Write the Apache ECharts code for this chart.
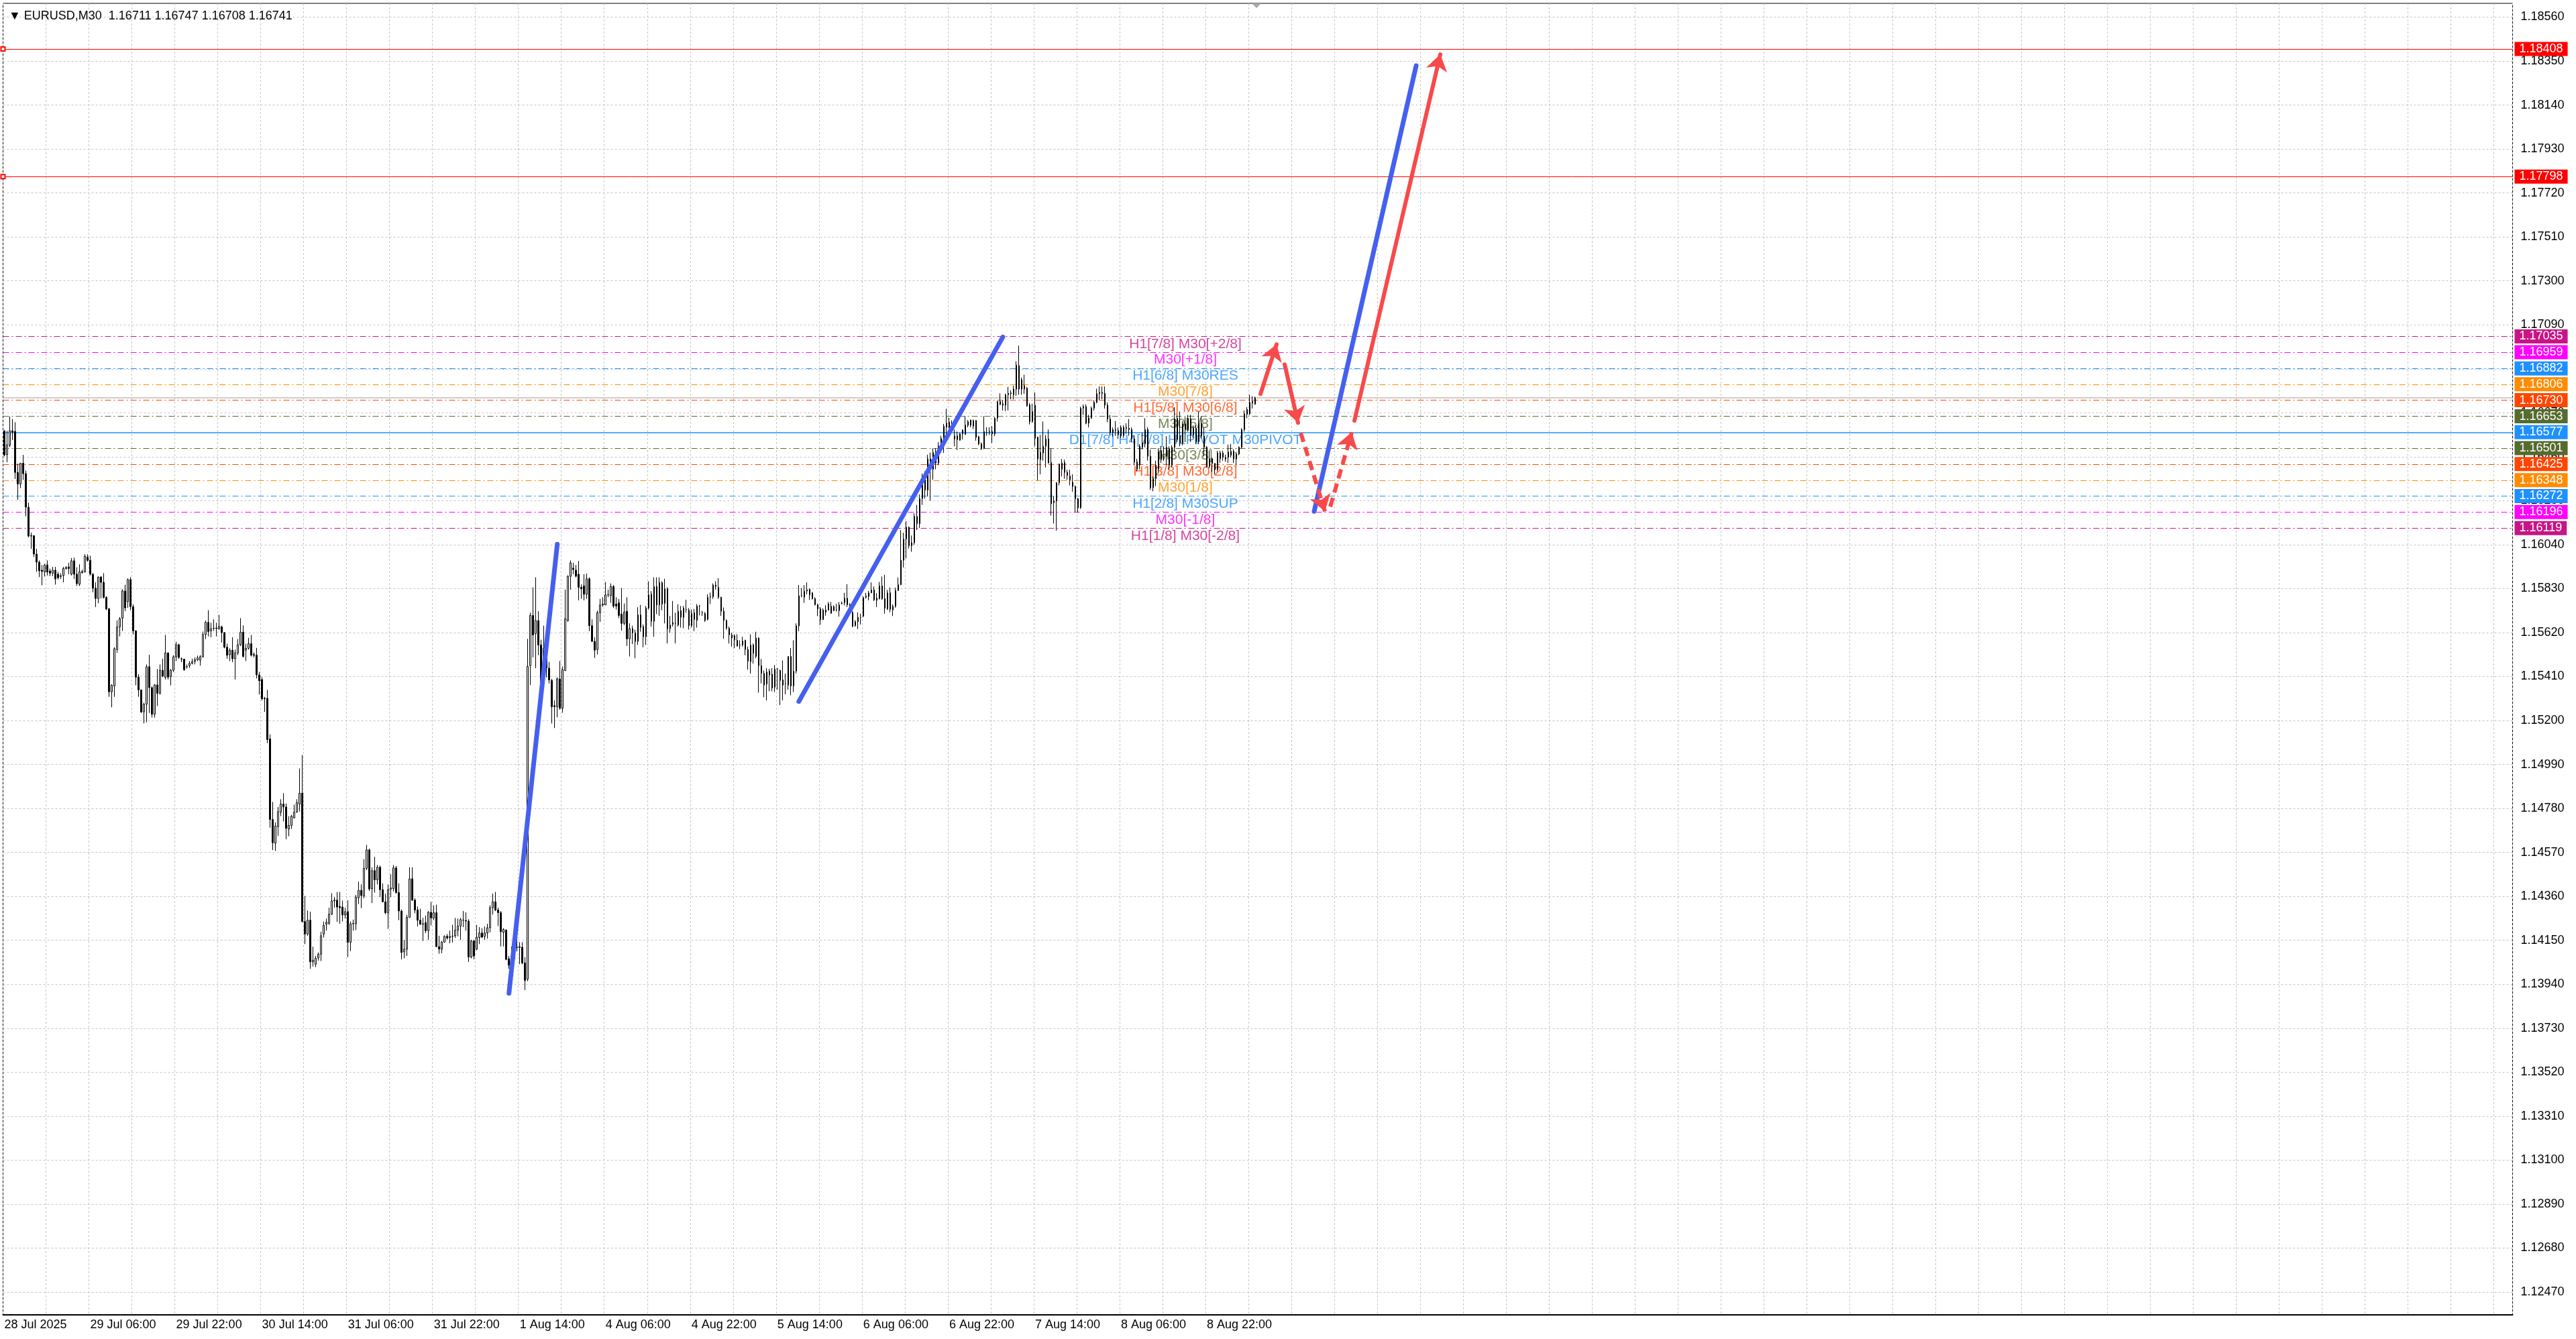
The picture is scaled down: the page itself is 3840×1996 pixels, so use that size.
<!DOCTYPE html>
<html>
<head>
<meta charset="utf-8">
<title>EURUSD,M30</title>
<script src="https://cdn.jsdelivr.net/npm/echarts@6/dist/echarts.min.js"></script>
<style>
  html, body { margin: 0; padding: 0; background: #fff; }
  #chart { width: 3840px; height: 1996px; }
</style>
</head>
<body>
<div id="chart"></div>
<script>
// time axis labels, one every 32 bars (16 hours of M30)
const timeLabels = ['28 Jul 2025', '29 Jul 06:00', '29 Jul 22:00', '30 Jul 14:00', '31 Jul 06:00',
  '31 Jul 22:00', '1 Aug 14:00', '4 Aug 06:00', '4 Aug 22:00', '5 Aug 14:00', '6 Aug 06:00',
  '6 Aug 22:00', '7 Aug 14:00', '8 Aug 06:00', '8 Aug 22:00'];

// price scale tick labels
const priceTicks = [1.12470, 1.12680, 1.12890, 1.13100, 1.13310, 1.13520, 1.13730, 1.13940,
  1.14150, 1.14360, 1.14570, 1.14780, 1.14990, 1.15200, 1.15410, 1.15620, 1.15830, 1.16040,
  1.16250, 1.16460, 1.16670, 1.16880, 1.17090, 1.17300, 1.17510, 1.17720, 1.17930, 1.18140,
  1.18350, 1.18560];

// Murrey levels
const levelPrices = [1.17035, 1.16959, 1.16882, 1.16806, 1.16730, 1.16653, 1.16577,
  1.16501, 1.16425, 1.16348, 1.16272, 1.16196, 1.16119];
const levelNames = ['H1[7/8] M30[+2/8]', 'M30[+1/8]', 'H1[6/8] M30RES', 'M30[7/8]',
  'H1[5/8] M30[6/8]', 'M30[5/8]', 'D1[7/8] H4[7/8] H1PIVOT M30PIVOT', 'M30[3/8]',
  'H1[3/8] M30[2/8]', 'M30[1/8]', 'H1[2/8] M30SUP', 'M30[-1/8]', 'H1[1/8] M30[-2/8]'];
const levelColors = ['#C71585', '#FF00FF', '#1E90FF', '#FF8C00', '#FF4500', '#556B2F', '#1E90FF',
  '#556B2F', '#FF4500', '#FF8C00', '#1E90FF', '#FF00FF', '#C71585'];
const targetPrices = [1.18408, 1.17798];
const bidPrice = 1.16741;

// M30 bars as [open, close, low, high]
const bars28to30Jul = [
  [1.16584,1.16468,1.16462,1.16586],[1.16470,1.16517,1.16434,1.16584],[1.16515,1.16584,1.16506,1.16652],
  [1.16584,1.16578,1.16540,1.16640],[1.16581,1.16385,1.16354,1.16625],[1.16385,1.16330,1.16254,1.16427],
  [1.16330,1.16429,1.16310,1.16431],[1.16429,1.16379,1.16349,1.16469],[1.16379,1.16219,1.16175,1.16394],
  [1.16219,1.16081,1.16075,1.16241],[1.16081,1.16083,1.16020,1.16098],[1.16083,1.15995,1.15981,1.16084],
  [1.15995,1.15956,1.15910,1.16020],[1.15956,1.15915,1.15885,1.15965],[1.15918,1.15912,1.15846,1.15943],
  [1.15910,1.15943,1.15888,1.15948],[1.15943,1.15910,1.15893,1.15965],[1.15914,1.15904,1.15890,1.15926],
  [1.15904,1.15918,1.15890,1.15934],[1.15918,1.15876,1.15849,1.15934],[1.15899,1.15882,1.15874,1.15910],
  [1.15888,1.15892,1.15876,1.15904],[1.15893,1.15926,1.15860,1.15934],[1.15925,1.15932,1.15921,1.15937],
  [1.15934,1.15926,1.15899,1.15954],[1.15899,1.15963,1.15893,1.15976],[1.15963,1.15899,1.15876,1.15978],
  [1.15899,1.15854,1.15843,1.15932],[1.15851,1.15910,1.15843,1.15946],[1.15906,1.15912,1.15902,1.15921],
  [1.15910,1.15985,1.15907,1.15994],[1.15981,1.15965,1.15959,1.15994],[1.15965,1.15899,1.15893,1.15987],
  [1.15899,1.15832,1.15812,1.15904],[1.15832,1.15783,1.15742,1.15860],[1.15783,1.15885,1.15760,1.15888],
  [1.15885,1.15860,1.15783,1.15890],[1.15860,1.15788,1.15783,1.15904],[1.15788,1.15733,1.15727,1.15794],
  [1.15733,1.15337,1.15313,1.15738],[1.15337,1.15368,1.15263,1.15374],[1.15365,1.15543,1.15313,1.15550],
  [1.15539,1.15647,1.15523,1.15678],[1.15647,1.15686,1.15602,1.15694],[1.15689,1.15819,1.15628,1.15827],
  [1.15819,1.15738,1.15722,1.15849],[1.15768,1.15873,1.15738,1.15879],[1.15873,1.15744,1.15727,1.15885],
  [1.15744,1.15628,1.15611,1.15755],[1.15628,1.15407,1.15368,1.15631],[1.15407,1.15346,1.15313,1.15421],
  [1.15346,1.15241,1.15236,1.15348],[1.15241,1.15278,1.15186,1.15285],[1.15278,1.15457,1.15191,1.15468],
  [1.15457,1.15357,1.15236,1.15514],[1.15357,1.15230,1.15214,1.15363],[1.15230,1.15370,1.15214,1.15374],
  [1.15370,1.15330,1.15269,1.15446],[1.15330,1.15440,1.15324,1.15468],[1.15440,1.15412,1.15407,1.15495],
  [1.15407,1.15523,1.15396,1.15609],[1.15523,1.15407,1.15396,1.15525],[1.15410,1.15440,1.15368,1.15446],
  [1.15440,1.15504,1.15432,1.15512],[1.15504,1.15562,1.15484,1.15576],[1.15562,1.15501,1.15495,1.15567],
  [1.15495,1.15493,1.15479,1.15501],[1.15493,1.15443,1.15437,1.15495],[1.15457,1.15457,1.15448,1.15468],
  [1.15462,1.15473,1.15451,1.15484],[1.15473,1.15481,1.15468,1.15495],[1.15483,1.15490,1.15468,1.15501],
  [1.15490,1.15499,1.15484,1.15510],[1.15488,1.15505,1.15462,1.15512],[1.15504,1.15611,1.15501,1.15625],
  [1.15611,1.15669,1.15589,1.15678],[1.15669,1.15625,1.15602,1.15727],[1.15628,1.15639,1.15598,1.15667],
  [1.15640,1.15641,1.15628,1.15683],[1.15639,1.15642,1.15602,1.15667],[1.15639,1.15650,1.15633,1.15705],
  [1.15647,1.15620,1.15573,1.15653],[1.15620,1.15550,1.15545,1.15622],[1.15550,1.15512,1.15495,1.15567],
  [1.15514,1.15536,1.15484,1.15545],[1.15536,1.15495,1.15479,1.15598],[1.15495,1.15523,1.15396,1.15539],
  [1.15523,1.15562,1.15512,1.15589],[1.15562,1.15622,1.15556,1.15689],[1.15622,1.15506,1.15501,1.15655],
  [1.15536,1.15545,1.15484,1.15567],[1.15545,1.15567,1.15539,1.15595],[1.15567,1.15512,1.15506,1.15609],
  [1.15510,1.15517,1.15501,1.15525],[1.15512,1.15418,1.15401,1.15547],[1.15418,1.15390,1.15324,1.15432],
  [1.15396,1.15304,1.15296,1.15407],[1.15306,1.15304,1.15241,1.15313],[1.15306,1.15109,1.15092,1.15346]
];
const bars30Jul1Aug = [
  [1.15112,1.14727,1.14688,1.15134],[1.14727,1.14616,1.14581,1.14811],[1.14614,1.14696,1.14577,1.14713],
  [1.14693,1.14765,1.14649,1.14787],[1.14762,1.14801,1.14743,1.14824],[1.14801,1.14787,1.14718,1.14853],
  [1.14787,1.14685,1.14633,1.14804],[1.14682,1.14699,1.14647,1.14743],[1.14699,1.14743,1.14682,1.14749],
  [1.14735,1.14762,1.14732,1.14798],[1.14762,1.14808,1.14760,1.14824],[1.14801,1.14853,1.14765,1.14971],
  [1.14853,1.14240,1.14235,1.15035],[1.14240,1.14180,1.14132,1.14362],[1.14180,1.14246,1.14172,1.14293],
  [1.14246,1.14047,1.14014,1.14287],[1.14047,1.14055,1.14025,1.14120],[1.14036,1.14064,1.14022,1.14075],
  [1.14066,1.14084,1.14053,1.14092],[1.14084,1.14172,1.14051,1.14191],[1.14180,1.14221,1.14163,1.14240],
  [1.14227,1.14236,1.14196,1.14254],[1.14231,1.14275,1.14224,1.14306],[1.14275,1.14338,1.14271,1.14375],
  [1.14338,1.14342,1.14306,1.14356],[1.14342,1.14309,1.14238,1.14381],[1.14312,1.14306,1.14229,1.14381],
  [1.14309,1.14271,1.14240,1.14340],[1.14271,1.14287,1.14254,1.14306],[1.14287,1.14141,1.14070,1.14342],
  [1.14141,1.14229,1.14099,1.14240],[1.14229,1.14231,1.14196,1.14249],[1.14229,1.14356,1.14199,1.14367],
  [1.14353,1.14389,1.14323,1.14430],[1.14389,1.14364,1.14304,1.14417],[1.14362,1.14494,1.14351,1.14538],
  [1.14494,1.14582,1.14485,1.14606],[1.14582,1.14395,1.14386,1.14588],[1.14397,1.14483,1.14328,1.14499],
  [1.14483,1.14439,1.14378,1.14549],[1.14439,1.14499,1.14417,1.14510],[1.14499,1.14392,1.14356,1.14507],
  [1.14392,1.14334,1.14331,1.14422],[1.14334,1.14282,1.14275,1.14373],[1.14282,1.14392,1.14205,1.14417],
  [1.14395,1.14400,1.14356,1.14466],[1.14397,1.14496,1.14384,1.14510],[1.14496,1.14378,1.14373,1.14505],
  [1.14378,1.14290,1.14246,1.14422],[1.14290,1.14092,1.14059,1.14298],[1.14095,1.14108,1.14064,1.14152],
  [1.14108,1.14260,1.14075,1.14271],[1.14260,1.14444,1.14257,1.14499],[1.14444,1.14342,1.14338,1.14499],
  [1.14342,1.14295,1.14279,1.14351],[1.14295,1.14246,1.14216,1.14312],[1.14246,1.14227,1.14224,1.14301],
  [1.14229,1.14227,1.14147,1.14257],[1.14235,1.14196,1.14185,1.14268],[1.14196,1.14284,1.14152,1.14290],
  [1.14284,1.14257,1.14221,1.14334],[1.14257,1.14282,1.14246,1.14317],[1.14282,1.14120,1.14117,1.14320],
  [1.14120,1.14108,1.14086,1.14172],[1.14108,1.14141,1.14088,1.14147],[1.14141,1.14169,1.14139,1.14174],
  [1.14169,1.14161,1.14154,1.14180],[1.14163,1.14169,1.14136,1.14196],[1.14169,1.14170,1.14139,1.14224],
  [1.14172,1.14199,1.14161,1.14257],[1.14199,1.14218,1.14169,1.14254],[1.14218,1.14249,1.14152,1.14257],
  [1.14246,1.14247,1.14213,1.14290],[1.14245,1.14242,1.14196,1.14284],[1.14242,1.14070,1.14047,1.14251],
  [1.14070,1.14147,1.14064,1.14152],[1.14147,1.14075,1.14059,1.14152],[1.14108,1.14165,1.14103,1.14224],
  [1.14163,1.14185,1.14132,1.14213],[1.14185,1.14165,1.14161,1.14208],[1.14169,1.14185,1.14152,1.14216],
  [1.14185,1.14210,1.14158,1.14229],[1.14210,1.14306,1.14188,1.14317],[1.14306,1.14334,1.14273,1.14373],
  [1.14334,1.14295,1.14290,1.14381],[1.14295,1.14282,1.14218,1.14306],[1.14282,1.14191,1.14121,1.14290],
  [1.14188,1.14202,1.14121,1.14208],[1.14199,1.14059,1.14055,1.14202],[1.14062,1.14031,1.14014,1.14075],
  [1.14031,1.14075,1.14009,1.14120],[1.14064,1.14117,1.14053,1.14141],[1.14117,1.14115,1.14097,1.14224],
  [1.14115,1.14120,1.14036,1.14141],[1.14117,1.14042,1.14036,1.14141],[1.14042,1.13959,1.13912,1.14070]
];
const bars1to5Aug = [
  [1.13965,1.15458,1.13955,1.15590],[1.15462,1.15702,1.15369,1.15715],[1.15702,1.15609,1.15502,1.15836],
  [1.15615,1.15678,1.15450,1.15884],[1.15677,1.15561,1.15512,1.15722],[1.15561,1.15377,1.15374,1.15586],
  [1.15377,1.15546,1.15374,1.15653],[1.15546,1.15450,1.15406,1.15641],[1.15450,1.15394,1.15377,1.15480],
  [1.15391,1.15266,1.15186,1.15399],[1.15271,1.15266,1.15164,1.15296],[1.15266,1.15399,1.15215,1.15406],
  [1.15399,1.15259,1.15252,1.15484],[1.15259,1.15443,1.15237,1.15458],[1.15439,1.15686,1.15436,1.15825],
  [1.15678,1.15889,1.15671,1.15894],[1.15889,1.15953,1.15825,1.15965],[1.15928,1.15921,1.15899,1.15953],
  [1.15918,1.15889,1.15884,1.15943],[1.15899,1.15836,1.15774,1.15962],[1.15836,1.15830,1.15781,1.15850],
  [1.15843,1.15803,1.15774,1.15899],[1.15803,1.15877,1.15781,1.15902],[1.15877,1.15653,1.15627,1.15884],
  [1.15653,1.15578,1.15575,1.15683],[1.15578,1.15536,1.15499,1.15597],[1.15539,1.15715,1.15516,1.15725],
  [1.15715,1.15752,1.15671,1.15781],[1.15752,1.15756,1.15744,1.15789],[1.15752,1.15800,1.15752,1.15862],
  [1.15800,1.15801,1.15789,1.15825],[1.15796,1.15840,1.15762,1.15855],[1.15840,1.15747,1.15737,1.15847],
  [1.15756,1.15747,1.15730,1.15789],[1.15762,1.15702,1.15689,1.15781],[1.15708,1.15664,1.15630,1.15833],
  [1.15664,1.15718,1.15656,1.15759],[1.15722,1.15590,1.15556,1.15789],[1.15590,1.15639,1.15506,1.15664],
  [1.15639,1.15619,1.15565,1.15653],[1.15618,1.15578,1.15497,1.15634],[1.15578,1.15705,1.15561,1.15741],
  [1.15705,1.15644,1.15624,1.15752],[1.15649,1.15600,1.15550,1.15659],[1.15600,1.15737,1.15561,1.15747],
  [1.15737,1.15800,1.15730,1.15865],[1.15803,1.15674,1.15649,1.15818],[1.15674,1.15840,1.15600,1.15884],
  [1.15840,1.15752,1.15708,1.15884],[1.15752,1.15859,1.15700,1.15884],[1.15859,1.15756,1.15727,1.15865],
  [1.15759,1.15830,1.15664,1.15877],[1.15830,1.15639,1.15568,1.15836],[1.15639,1.15656,1.15619,1.15700],
  [1.15659,1.15668,1.15649,1.15771],[1.15664,1.15665,1.15568,1.15715],[1.15656,1.15722,1.15649,1.15756],
  [1.15725,1.15693,1.15644,1.15747],[1.15693,1.15737,1.15641,1.15747],[1.15730,1.15731,1.15715,1.15777],
  [1.15727,1.15653,1.15634,1.15737],[1.15653,1.15712,1.15644,1.15730],[1.15715,1.15683,1.15627,1.15733],
  [1.15678,1.15747,1.15644,1.15756],[1.15747,1.15748,1.15702,1.15752],[1.15715,1.15716,1.15700,1.15724],
  [1.15711,1.15678,1.15671,1.15718],[1.15683,1.15789,1.15678,1.15803],[1.15791,1.15790,1.15756,1.15811],
  [1.15791,1.15847,1.15781,1.15855],[1.15847,1.15840,1.15825,1.15865],[1.15836,1.15789,1.15781,1.15880],
  [1.15789,1.15722,1.15700,1.15791],[1.15722,1.15678,1.15590,1.15740],[1.15678,1.15641,1.15634,1.15683],
  [1.15641,1.15609,1.15568,1.15649],[1.15594,1.15609,1.15553,1.15619],[1.15605,1.15586,1.15546,1.15612],
  [1.15583,1.15556,1.15553,1.15612],[1.15561,1.15562,1.15541,1.15583],[1.15561,1.15580,1.15553,1.15600],
  [1.15583,1.15539,1.15512,1.15586],[1.15539,1.15483,1.15443,1.15553],[1.15480,1.15561,1.15424,1.15612],
  [1.15561,1.15521,1.15472,1.15568],[1.15506,1.15594,1.15497,1.15624],[1.15594,1.15462,1.15333,1.15597],
  [1.15462,1.15425,1.15377,1.15494],[1.15425,1.15369,1.15311,1.15439],[1.15374,1.15433,1.15296,1.15450],
  [1.15418,1.15436,1.15340,1.15447],[1.15421,1.15355,1.15340,1.15450],[1.15359,1.15446,1.15336,1.15465],
  [1.15446,1.15447,1.15347,1.15450],[1.15439,1.15391,1.15274,1.15443],[1.15394,1.15369,1.15296,1.15487],
  [1.15377,1.15378,1.15325,1.15424],[1.15369,1.15506,1.15347,1.15506],[1.15506,1.15365,1.15321,1.15546],
  [1.15365,1.15436,1.15336,1.15583],[1.15436,1.15652,1.15424,1.15664],[1.15652,1.15796,1.15627,1.15847],
  [1.15796,1.15797,1.15789,1.15833],[1.15789,1.15818,1.15762,1.15847]
];
const bars5to7Aug = [
  [1.15824,1.15819,1.15803,1.15860],[1.15800,1.15827,1.15776,1.15830],[1.15810,1.15782,1.15778,1.15814],
  [1.15782,1.15753,1.15750,1.15789],[1.15753,1.15733,1.15699,1.15757],[1.15733,1.15682,1.15657,1.15742],
  [1.15682,1.15728,1.15680,1.15736],[1.15717,1.15728,1.15701,1.15750],[1.15728,1.15757,1.15725,1.15766],
  [1.15712,1.15746,1.15710,1.15766],[1.15744,1.15725,1.15723,1.15750],[1.15728,1.15729,1.15721,1.15757],
  [1.15725,1.15752,1.15696,1.15766],[1.15758,1.15761,1.15755,1.15768],[1.15763,1.15785,1.15750,1.15810],
  [1.15784,1.15753,1.15742,1.15851],[1.15753,1.15717,1.15712,1.15760],[1.15717,1.15650,1.15646,1.15723],
  [1.15653,1.15672,1.15648,1.15680],[1.15672,1.15693,1.15637,1.15717],[1.15691,1.15692,1.15659,1.15710],
  [1.15699,1.15787,1.15693,1.15792],[1.15789,1.15795,1.15782,1.15810],[1.15792,1.15810,1.15774,1.15819],
  [1.15810,1.15824,1.15808,1.15860],[1.15824,1.15776,1.15771,1.15840],[1.15774,1.15785,1.15742,1.15808],
  [1.15782,1.15843,1.15778,1.15862],[1.15843,1.15782,1.15776,1.15888],[1.15782,1.15736,1.15710,1.15896],
  [1.15733,1.15810,1.15728,1.15824],[1.15810,1.15731,1.15717,1.15835],[1.15728,1.15746,1.15699,1.15755],
  [1.15746,1.15821,1.15739,1.15835],[1.15821,1.15849,1.15819,1.15883],[1.15849,1.15966,1.15846,1.16109],
  [1.15966,1.16067,1.15931,1.16097],[1.16067,1.16123,1.15974,1.16152],[1.16123,1.16035,1.16022,1.16127],
  [1.16035,1.16049,1.16006,1.16084],[1.16049,1.16175,1.16040,1.16190],[1.16175,1.16140,1.16110,1.16230],
  [1.16140,1.16260,1.16120,1.16280],[1.16260,1.16360,1.16230,1.16380],[1.16360,1.16300,1.16260,1.16390],
  [1.16300,1.16450,1.16270,1.16470],[1.16450,1.16400,1.16250,1.16480],[1.16400,1.16480,1.16350,1.16500],
  [1.16480,1.16430,1.16400,1.16500],[1.16430,1.16510,1.16420,1.16530],[1.16505,1.16548,1.16480,1.16560],
  [1.16542,1.16606,1.16478,1.16617],[1.16601,1.16620,1.16548,1.16689],[1.16625,1.16601,1.16596,1.16646],
  [1.16606,1.16614,1.16585,1.16633],[1.16560,1.16545,1.16510,1.16590],[1.16542,1.16560,1.16492,1.16580],
  [1.16569,1.16539,1.16537,1.16574],[1.16569,1.16588,1.16542,1.16590],[1.16567,1.16612,1.16564,1.16654],
  [1.16610,1.16628,1.16601,1.16635],[1.16635,1.16610,1.16601,1.16638],[1.16606,1.16633,1.16592,1.16638],
  [1.16633,1.16553,1.16537,1.16635],[1.16556,1.16521,1.16515,1.16560],[1.16521,1.16499,1.16492,1.16528],
  [1.16499,1.16580,1.16496,1.16654],[1.16577,1.16576,1.16560,1.16601],[1.16576,1.16580,1.16564,1.16601],
  [1.16580,1.16569,1.16526,1.16606],[1.16569,1.16644,1.16558,1.16649],[1.16644,1.16724,1.16628,1.16727],
  [1.16710,1.16724,1.16706,1.16763],[1.16713,1.16706,1.16681,1.16729],[1.16706,1.16756,1.16678,1.16761],
  [1.16756,1.16763,1.16681,1.16793],[1.16761,1.16765,1.16735,1.16777],[1.16756,1.16783,1.16735,1.16799],
  [1.16783,1.16898,1.16751,1.16916],[1.16895,1.16783,1.16756,1.16991],[1.16783,1.16828,1.16756,1.16838],
  [1.16799,1.16783,1.16761,1.16852],[1.16788,1.16703,1.16699,1.16793],[1.16708,1.16628,1.16614,1.16716],
  [1.16628,1.16676,1.16622,1.16713],[1.16706,1.16548,1.16510,1.16767],[1.16553,1.16449,1.16347,1.16556],
  [1.16446,1.16481,1.16376,1.16564],[1.16478,1.16510,1.16441,1.16628],[1.16510,1.16545,1.16409,1.16564],
  [1.16545,1.16430,1.16428,1.16590],[1.16432,1.16235,1.16179,1.16499],[1.16240,1.16248,1.16141,1.16270],
  [1.16248,1.16336,1.16107,1.16339],[1.16336,1.16425,1.16323,1.16428],[1.16400,1.16430,1.16366,1.16449],
  [1.16432,1.16385,1.16355,1.16446],[1.16385,1.16371,1.16350,1.16398],[1.16368,1.16350,1.16323,1.16398],
  [1.16338,1.16318,1.16293,1.16376],[1.16318,1.16259,1.16195,1.16323],[1.16259,1.16216,1.16193,1.16264],
  [1.16216,1.16692,1.16211,1.16699]
];
const bars7to8Aug = [
  [1.16692,1.16700,1.16660,1.16710],[1.16700,1.16620,1.16615,1.16710],[1.16620,1.16646,1.16600,1.16660],
  [1.16646,1.16692,1.16640,1.16700],[1.16692,1.16720,1.16680,1.16730],[1.16720,1.16761,1.16715,1.16785],
  [1.16761,1.16767,1.16730,1.16796],[1.16767,1.16763,1.16735,1.16796],[1.16763,1.16706,1.16690,1.16796],
  [1.16706,1.16640,1.16625,1.16720],[1.16640,1.16575,1.16560,1.16660],[1.16575,1.16590,1.16555,1.16600],
  [1.16590,1.16585,1.16560,1.16630],[1.16585,1.16565,1.16545,1.16600],[1.16600,1.16560,1.16550,1.16610],
  [1.16560,1.16600,1.16550,1.16610],[1.16600,1.16596,1.16570,1.16620],[1.16596,1.16590,1.16560,1.16640],
  [1.16590,1.16545,1.16530,1.16600],[1.16545,1.16435,1.16419,1.16560],[1.16435,1.16400,1.16390,1.16450],
  [1.16420,1.16510,1.16400,1.16520],[1.16505,1.16526,1.16494,1.16574],[1.16521,1.16590,1.16505,1.16644],
  [1.16590,1.16462,1.16441,1.16601],[1.16462,1.16312,1.16302,1.16494],[1.16312,1.16355,1.16295,1.16366],
  [1.16355,1.16419,1.16320,1.16441],[1.16400,1.16484,1.16380,1.16500],[1.16446,1.16489,1.16430,1.16510],
  [1.16473,1.16470,1.16440,1.16510],[1.16462,1.16505,1.16419,1.16558],[1.16499,1.16419,1.16398,1.16510],
  [1.16419,1.16505,1.16410,1.16515],[1.16505,1.16641,1.16484,1.16697],[1.16644,1.16542,1.16530,1.16660],
  [1.16560,1.16526,1.16510,1.16676],[1.16526,1.16617,1.16515,1.16630],[1.16617,1.16590,1.16530,1.16649],
  [1.16590,1.16641,1.16580,1.16660],[1.16641,1.16564,1.16530,1.16660],[1.16564,1.16596,1.16550,1.16610],
  [1.16596,1.16532,1.16520,1.16610],[1.16532,1.16620,1.16520,1.16676],[1.16620,1.16558,1.16548,1.16654],
  [1.16558,1.16505,1.16462,1.16600],[1.16505,1.16414,1.16409,1.16510],[1.16414,1.16451,1.16405,1.16489],
  [1.16451,1.16428,1.16387,1.16455],[1.16428,1.16398,1.16376,1.16430],[1.16398,1.16478,1.16390,1.16489],
  [1.16478,1.16451,1.16430,1.16489],[1.16478,1.16457,1.16441,1.16489],[1.16449,1.16457,1.16436,1.16470],
  [1.16457,1.16483,1.16430,1.16518],[1.16467,1.16486,1.16457,1.16521],[1.16486,1.16449,1.16430,1.16496],
  [1.16449,1.16473,1.16419,1.16483],[1.16473,1.16505,1.16467,1.16510],[1.16505,1.16590,1.16499,1.16596],
  [1.16590,1.16665,1.16580,1.16681],[1.16663,1.16686,1.16644,1.16697],[1.16665,1.16719,1.16660,1.16756],
  [1.16724,1.16716,1.16690,1.16749],[1.16711,1.16741,1.16708,1.16747]
];

// drawn objects, [bar index, price]
const blueTrends = [
  [[188, 1.13897], [206, 1.16042]],
  [[296, 1.15291], [372, 1.17032]],
  [[488, 1.16199], [526, 1.18328]]
];
const redSolidMoves = [
  [[468, 1.16760], [474, 1.16997]],
  [[477, 1.16901], [482, 1.16622]],
  [[503, 1.16632], [535, 1.18382]]
];
const redDashedMoves = [
  [[483, 1.16574], [492, 1.16199]],
  [[494, 1.16221], [502, 1.16577]]
];

const bars = [].concat(bars28to30Jul, bars30Jul1Aug, bars1to5Aug, bars5to7Aug, bars7to8Aug);

const FONT = 'Liberation Sans';
const SLOTS = 935;          // visible bar slots incl. empty future area
const LABEL_STEP = 32;
const GRID_STEP = 16;
const LEVEL_TEXT_BAR = 440;

const categories = [];
for (let i = 0; i < SLOTS; i++) {
  categories.push(i % LABEL_STEP === 0 && i / LABEL_STEP < timeLabels.length ? timeLabels[i / LABEL_STEP] : '');
}

const chart = echarts.init(document.getElementById('chart'));

const option = {
  animation: false,
  backgroundColor: '#ffffff',
  title: {
    text: '\u25BC EURUSD,M30  1.16711 1.16747 1.16708 1.16741',
    left: 8,
    top: 10,
    textStyle: { fontFamily: FONT, fontSize: 18, fontWeight: 'normal', color: '#000' }
  },
  grid: {
    left: 4.5, right: 94.5, top: 5, bottom: 36,
    show: true, borderColor: '#000', borderWidth: 1, backgroundColor: '#fff'
  },
  xAxis: {
    type: 'category',
    data: categories,
    boundaryGap: true,
    axisLine: { show: true, lineStyle: { color: '#000', width: 2 } },
    axisTick: { show: false },
    axisLabel: {
      interval: (i) => i % LABEL_STEP === 0,
      align: 'left',
      color: '#000',
      fontFamily: FONT,
      fontSize: 18,
      margin: 6
    },
    splitLine: {
      show: true,
      interval: (i) => i % GRID_STEP === 0,
      lineStyle: { color: '#c4c4c4', type: [3, 3], width: 1 }
    }
  },
  yAxis: {
    type: 'value',
    min: 1.12361,
    max: 1.186257,
    show: false,
    splitLine: { show: false }
  },
  graphic: [
    {
      type: 'polygon',
      shape: { points: [[1866, 5], [1880, 5], [1873, 12]] },
      style: { fill: '#a8a8a8' },
      z: 100
    }
  ],
  series: [
    {
      // price grid + scale labels
      type: 'line',
      data: [],
      silent: true,
      markLine: {
        z: 1,
        silent: true,
        precision: 5,
        symbol: 'none',
        lineStyle: { color: '#c4c4c4', type: [3, 3], width: 1 },
        label: {
          show: true, position: 'end', distance: 12,
          formatter: (p) => Number(p.value).toFixed(5),
          color: '#000', fontFamily: FONT, fontSize: 18
        },
        data: priceTicks.map((v) => ({ yAxis: v })).concat([
          { yAxis: bidPrice, lineStyle: { color: '#bdbdbd', type: 'solid', width: 1.5 }, label: { show: false } }
        ])
      }
    },
    {
      // Murrey levels
      type: 'line',
      data: [],
      silent: true,
      markLine: {
        z: 3,
        silent: true,
        precision: 5,
        symbol: 'none',
        label: {
          show: true, position: 'end', distance: 3,
          formatter: (p) => Number(p.value).toFixed(5),
          color: '#fff', fontFamily: FONT, fontSize: 18,
          padding: [2, 7, 1, 7]
        },
        data: levelPrices.map((v, k) => ({
          yAxis: v,
          lineStyle: { color: levelColors[k], type: k === 6 ? 'solid' : [9, 4, 2, 4], width: k === 6 ? 1.5 : 1 },
          label: { backgroundColor: levelColors[k] }
        }))
      }
    },
    {
      // target lines
      type: 'line',
      data: [],
      silent: true,
      markLine: {
        z: 3,
        silent: true,
        precision: 5,
        symbol: ['emptyRect', 'none'],
        symbolSize: 6,
        lineStyle: { color: '#ff0000', type: 'solid', width: 1 },
        label: {
          show: true, position: 'end', distance: 3,
          formatter: (p) => Number(p.value).toFixed(5),
          color: '#fff', fontFamily: FONT, fontSize: 18,
          padding: [2, 7, 1, 7], backgroundColor: '#ff0000'
        },
        data: targetPrices.map((v) => ({ yAxis: v }))
      }
    },
    {
      // level names
      type: 'scatter',
      silent: true,
      z: 4,
      symbolSize: 0,
      itemStyle: { color: 'transparent' },
      label: {
        show: true, position: 'bottom', distance: 1,
        fontFamily: FONT, fontSize: 21
      },
      data: levelPrices.map((v, k) => ({
        value: [LEVEL_TEXT_BAR, v],
        label: { color: levelColors[k], formatter: levelNames[k] }
      }))
    },
    {
      type: 'candlestick',
      z: 10,
      barWidth: 2,
      data: bars,
      itemStyle: {
        color: '#ffffff',
        color0: '#000000',
        borderColor: '#000000',
        borderColor0: '#000000',
        borderColorDoji: '#000000',
        borderWidth: 1
      }
    },
    {
      type: 'lines',
      coordinateSystem: 'cartesian2d',
      silent: true,
      z: 12,
      symbol: 'none',
      lineStyle: { color: '#4560ef', width: 7, opacity: 1, cap: 'round' },
      data: blueTrends.map((c) => ({ coords: c }))
    },
    {
      type: 'lines',
      coordinateSystem: 'cartesian2d',
      silent: true,
      z: 12,
      symbol: ['none', 'arrow'],
      symbolSize: 24,
      lineStyle: { color: '#f84a4a', width: 6, opacity: 1, cap: 'round' },
      data: redSolidMoves.map((c) => ({ coords: c }))
    },
    {
      type: 'lines',
      coordinateSystem: 'cartesian2d',
      silent: true,
      z: 12,
      symbol: ['none', 'arrow'],
      symbolSize: 24,
      lineStyle: { color: '#f84a4a', width: 6, opacity: 1, type: [14, 8] },
      data: redDashedMoves.map((c) => ({ coords: c }))
    }
  ]
};

chart.setOption(option);
</script>
</body>
</html>
